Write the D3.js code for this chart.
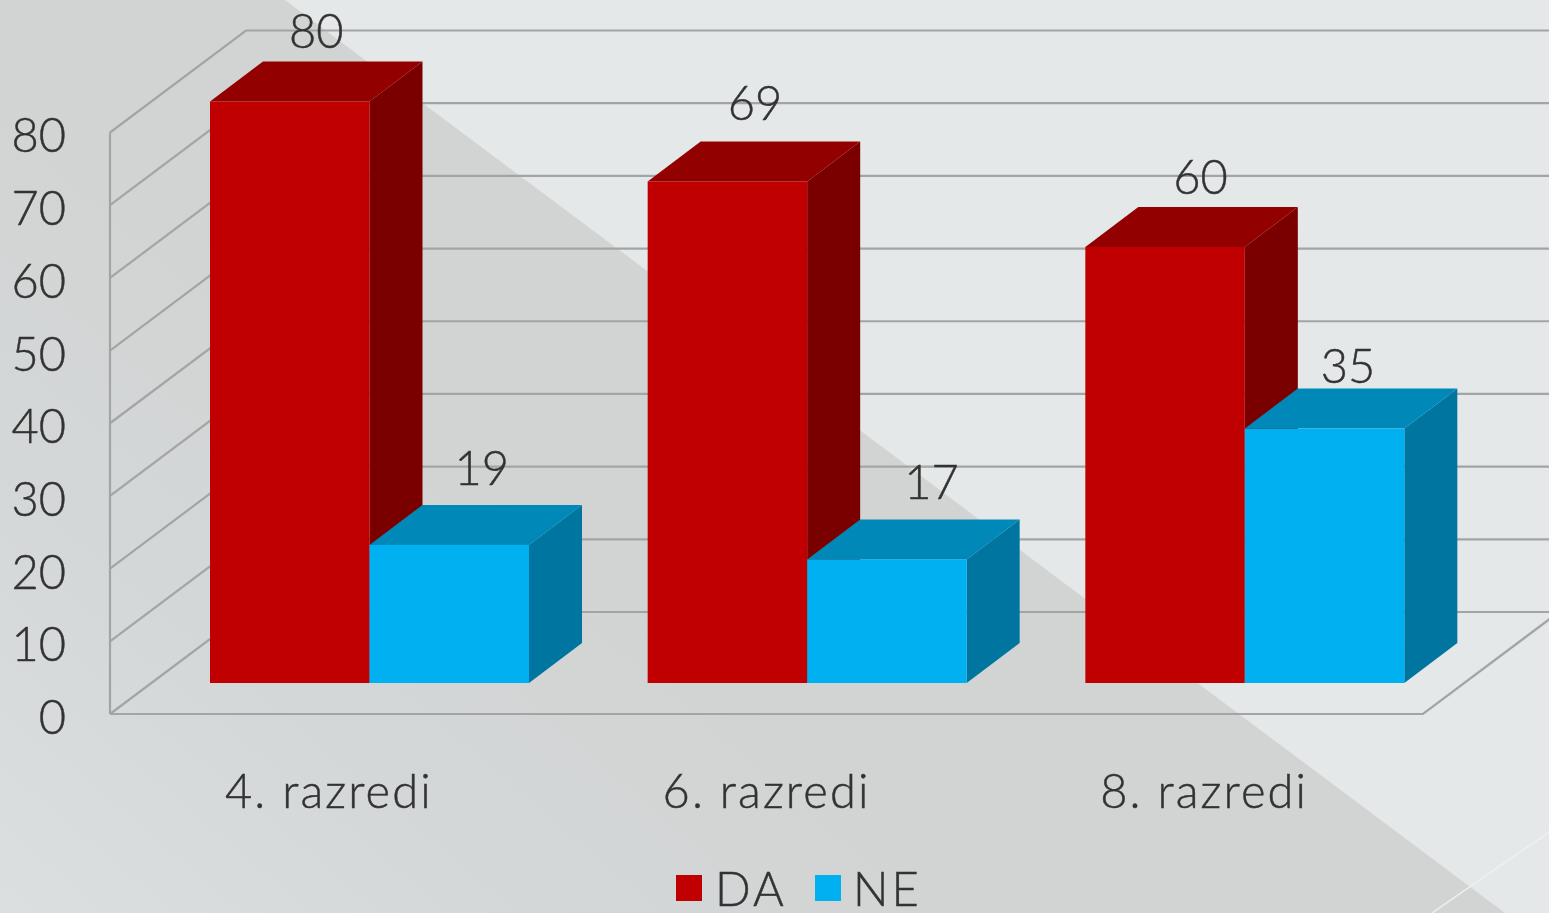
<!DOCTYPE html>
<html><head><meta charset="utf-8">
<script src="https://cdn.jsdelivr.net/npm/d3@7"></script>
<style>
html,body{margin:0;padding:0;background:#d5d7d7;overflow:hidden}
svg{display:block}
text{font-family:"Lato","Open Sans",sans-serif;font-weight:300;fill:#333;stroke:#333;stroke-width:0.45px}
</style></head><body><div id="chart"></div>
<script>
const categories = ["4. razredi","6. razredi","8. razredi"];
const seriesNames = ["DA","NE"];
const daValues = [80,69,60];
const neValues = [19,17,35];
const yTicks = [0,10,20,30,40,50,60,70,80];

const W=1549,H=913,FS=47;
const colors={DA:{front:"#c00000",top:"#930000",side:"#7a0000"},NE:{front:"#00b0f0",top:"#0088b9",side:"#0075a0"}};
const wall={dx:136,dy:-102}, barDepth={dx:53,dy:-40}, baseLift=31, barInset=100;
// hand placement of the value labels, as in the original chart
const labelNudge={DA:[[0,6],[1,-1],[9,7]],NE:[[6,0],[18,0],[-3,14]]};

const svg=d3.select("#chart").append("svg").attr("width",W).attr("height",H);
const defs=svg.append("defs");
const g=defs.append("linearGradient").attr("id","bg").attr("gradientUnits","userSpaceOnUse")
  .attr("x1",0).attr("y1",913).attr("x2",420).attr("y2",420);
[[0,"#dcdfdf"],[0.55,"#d4d7d8"],[1,"#d2d4d3"]].forEach(s=>g.append("stop").attr("offset",s[0]).attr("stop-color",s[1]));
defs.append("filter").attr("id","soft").append("feGaussianBlur").attr("stdDeviation",0.55);

const root=svg.append("g").attr("filter","url(#soft)");
root.append("rect").attr("width",W).attr("height",H).attr("fill","url(#bg)");
root.append("path").attr("d","M285,0H1549V913H1505Z").attr("fill","#e4e8e9");
root.append("path").attr("d","M1549,832L1432,913").attr("stroke","#eef1f2").attr("stroke-width",1.5).attr("fill","none");

const y=d3.scaleLinear().domain([0,80]).range([714,132.5]);
const x=d3.scaleBand().domain(categories).range([110,1423]);
const xs=d3.scaleBand().domain(seriesNames).range([0,319]);
const barH=v=>y(0)-y(v);

// walls and floor
const grid=root.append("g").attr("fill","none").attr("stroke","#a3a5a5").attr("stroke-width",2.2);
const x0=x.range()[0], x1=x.range()[1];
grid.selectAll(".g").data(yTicks).join("path")
  .attr("d",v=>`M${x0},${y(v)}L${x0+wall.dx},${y(v)+wall.dy}H${W+5}`);
grid.append("path").attr("d",`M${x0},${y(0)}V${y(80)}`);
grid.append("path").attr("d",`M${x0},${y(0)}H${x1}L${x1+wall.dx},${y(0)+wall.dy}`);

// bars
const rows=[];
categories.forEach((c,i)=>{
  rows.push({c,i,s:"DA",v:daValues[i]});
  rows.push({c,i,s:"NE",v:neValues[i]});
});
const base=y(0)-baseLift, w=xs.bandwidth();
const bars=root.append("g").selectAll("g").data(rows).join("g")
  .attr("transform",d=>`translate(${x(d.c)+barInset+xs(d.s)},${base})`);
bars.append("path").attr("fill",d=>colors[d.s].side)
  .attr("d",d=>`M${w},0V${-barH(d.v)}l${barDepth.dx},${barDepth.dy}V${barDepth.dy}Z`);
bars.append("path").attr("fill",d=>colors[d.s].top)
  .attr("d",d=>`M0,${-barH(d.v)}l${barDepth.dx},${barDepth.dy}h${w}l${-barDepth.dx},${-barDepth.dy}Z`);
bars.append("rect").attr("fill",d=>colors[d.s].front)
  .attr("x",0).attr("width",w).attr("y",d=>-barH(d.v)).attr("height",d=>barH(d.v));

// value labels
root.append("g").selectAll("text").data(rows).join("text")
  .attr("text-anchor","middle").attr("font-size",FS)
  .attr("x",d=>x(d.c)+barInset+xs(d.s)+w/2+barDepth.dx/2+labelNudge[d.s][d.i][0])
  .attr("y",d=>base-barH(d.v)+barDepth.dy-20+labelNudge[d.s][d.i][1])
  .text(d=>d.v);

// axes
const yAxis=root.append("g").attr("transform","translate(66,3)")
  .call(d3.axisLeft(y).tickValues(yTicks).tickSize(0).tickPadding(0));
yAxis.select(".domain").remove();
yAxis.selectAll("text").attr("font-size",FS).attr("dy","0.35em");
yAxis.attr("font-family",null).attr("font-size",null);
const xAxis=root.append("g").attr("transform","translate(0,792)")
  .call(d3.axisBottom(x).tickSize(0).tickPadding(0));
xAxis.select(".domain").remove();
xAxis.selectAll("text").attr("font-size",FS).attr("dy","0.35em").attr("y",0).attr("letter-spacing",2.1);
xAxis.attr("font-family",null).attr("font-size",null);

// legend
const leg=root.append("g").selectAll("g").data(seriesNames).join("g")
  .attr("transform",(d,i)=>`translate(${[676,815][i]},875)`);
leg.append("rect").attr("width",26).attr("height",26).attr("fill",d=>colors[d].front);
leg.append("text").attr("x",(d,i)=>[39,38][i]).attr("y",31).attr("font-size",FS).attr("letter-spacing",3).text(d=>d);
</script></body></html>
